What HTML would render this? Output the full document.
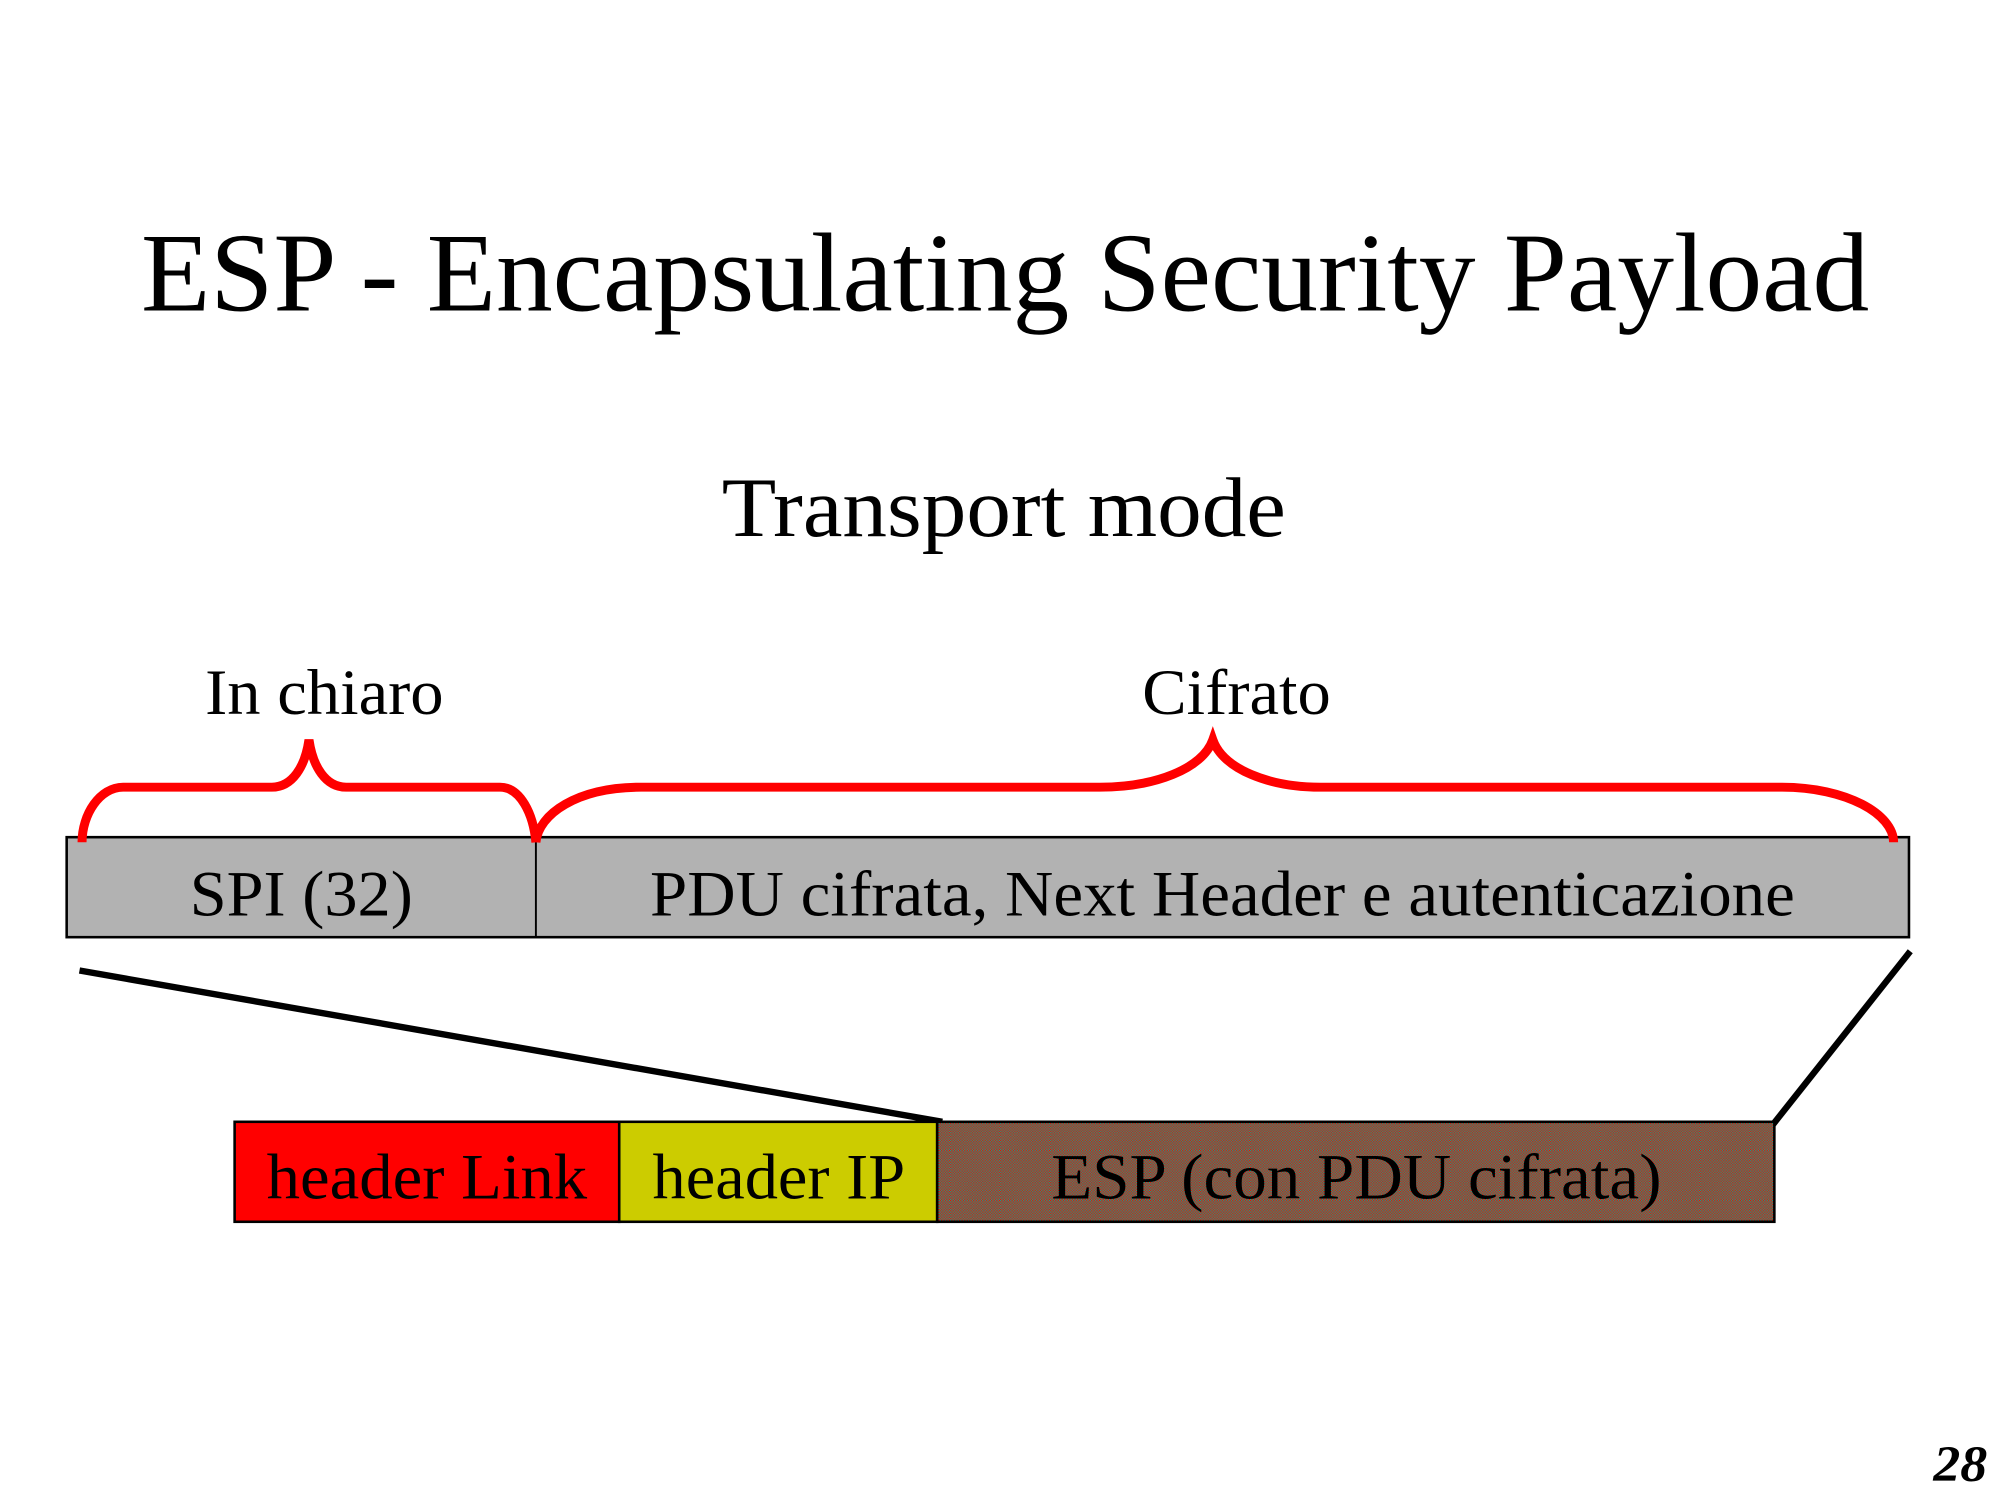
<!DOCTYPE html>
<html><head><meta charset="utf-8"><style>html,body{margin:0;padding:0;background:#fff}svg{display:block}</style></head>
<body>
<svg width="2000" height="1500" viewBox="0 0 1560 1170" xmlns="http://www.w3.org/2000/svg" font-family="Liberation Serif, serif">
<defs>
<pattern id="dith" width="2" height="2" patternUnits="userSpaceOnUse">
<rect width="2" height="2" fill="#ff0000"/>
<rect width="1" height="1" fill="#00b08a"/>
<rect x="1" y="1" width="1" height="1" fill="#00b08a"/>
</pattern>
</defs>
<text x="110" y="242" font-size="88" textLength="1348" lengthAdjust="spacingAndGlyphs">ESP - Encapsulating Security Payload</text>
<text x="563" y="418" font-size="66" textLength="440" lengthAdjust="spacingAndGlyphs">Transport mode</text>
<text x="160" y="557" font-size="50" textLength="186" lengthAdjust="spacingAndGlyphs">In chiaro</text>
<text x="891" y="557" font-size="50" textLength="147" lengthAdjust="spacingAndGlyphs">Cifrato</text>

<rect x="52" y="653" width="1437" height="78" fill="#b2b2b2" stroke="#000" stroke-width="2"/>
<line x1="418" y1="653" x2="418" y2="731" stroke="#000" stroke-width="1.5"/>
<text x="148" y="714" font-size="50" textLength="174" lengthAdjust="spacingAndGlyphs">SPI (32)</text>
<text x="507" y="714" font-size="50" textLength="893" lengthAdjust="spacingAndGlyphs">PDU cifrata, Next Header e autenticazione</text>

<g fill="none" stroke="#ff0000" stroke-width="7">
<path d="M64,657 C64,635 78,614 96,614 L212,614 C228,614 238,598 241,577 C244,598 254,614 270,614 L390,614 C406,614 416,635 418,657"/>
<path d="M418,657 C420,635 450,614 500,614 L858,614 C900,614 938,600 946,577 C954,600 990,614 1030,614 L1390,614 C1440,614 1477,635 1477,657"/>
</g>

<line x1="62" y1="757" x2="735" y2="875" stroke="#000" stroke-width="5"/>
<line x1="1490" y1="742" x2="1383" y2="877" stroke="#000" stroke-width="5"/>

<rect x="183" y="875" width="300" height="78" fill="#ff0000" stroke="#000" stroke-width="2"/>
<rect x="483" y="875" width="248" height="78" fill="#cccc00" stroke="#000" stroke-width="2"/>
<rect x="731" y="875" width="653" height="78" fill="url(#dith)" stroke="#000" stroke-width="2"/>
<text x="208" y="935" font-size="50" textLength="250" lengthAdjust="spacingAndGlyphs">header Link</text>
<text x="509" y="935" font-size="50" textLength="197" lengthAdjust="spacingAndGlyphs">header IP</text>
<text x="820" y="935" font-size="50" textLength="476" lengthAdjust="spacingAndGlyphs">ESP (con PDU cifrata)</text>

<text x="1508" y="1155" font-size="40" font-weight="bold" font-style="italic" textLength="42" lengthAdjust="spacingAndGlyphs">28</text>
</svg>
</body></html>
